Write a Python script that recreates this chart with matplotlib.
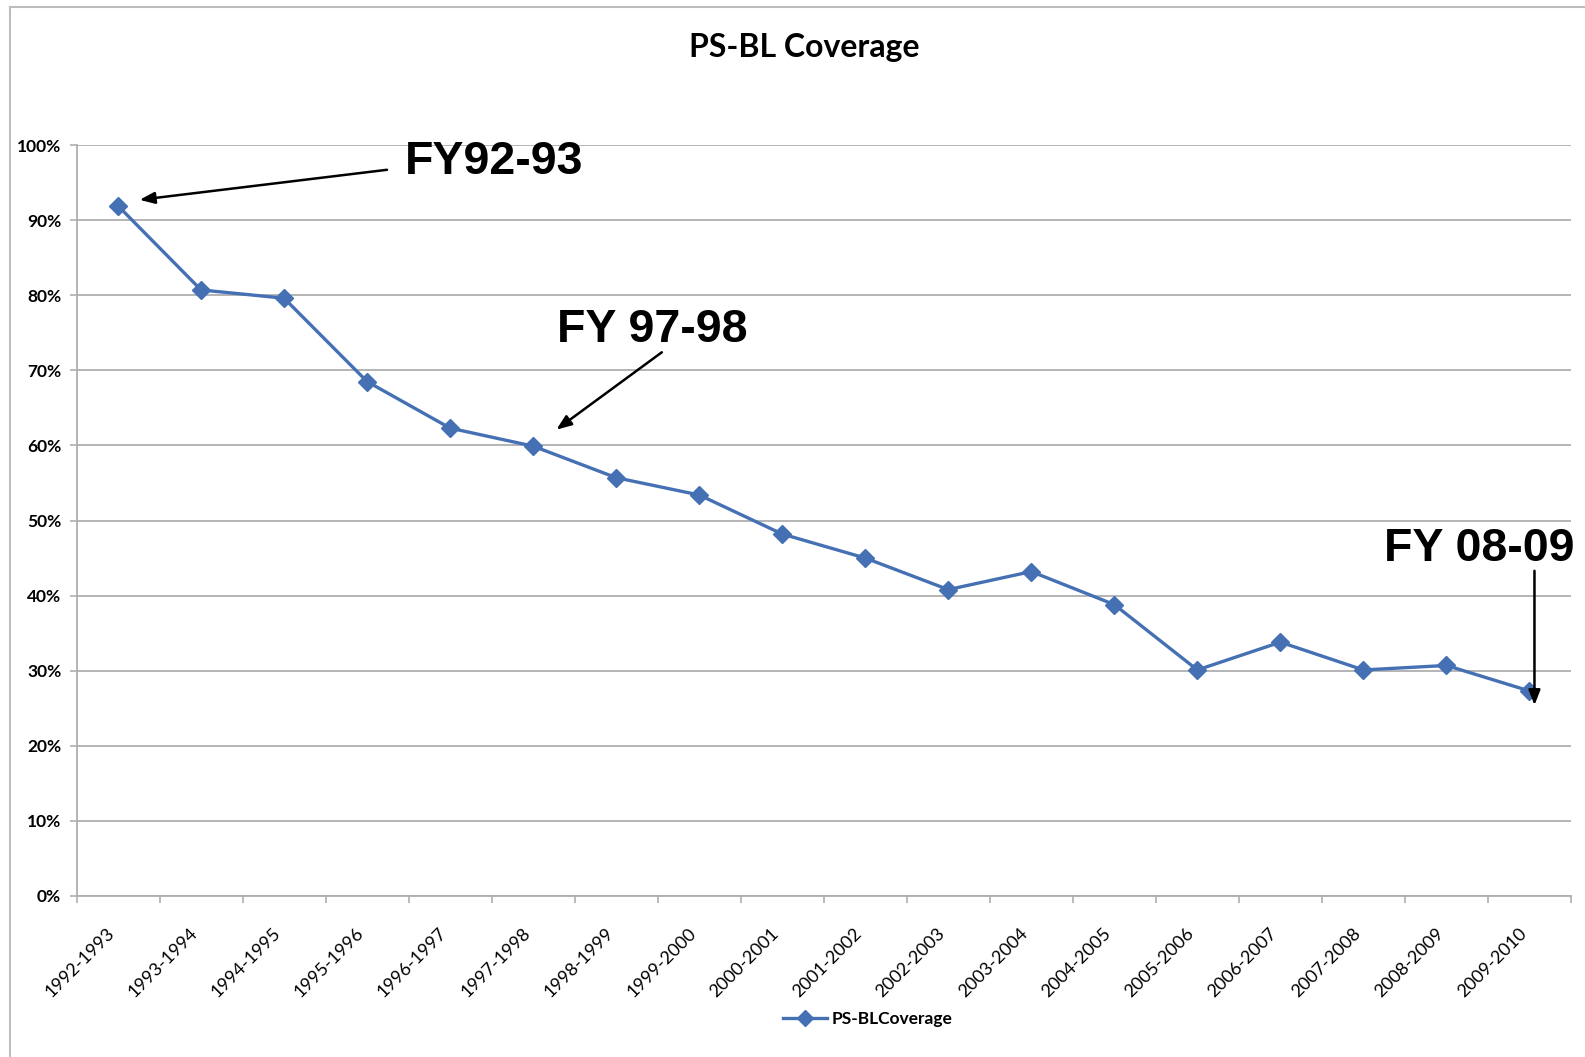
import matplotlib
matplotlib.use("Agg")
import matplotlib.pyplot as plt
from matplotlib.ticker import PercentFormatter, FixedLocator
from matplotlib.lines import Line2D
import numpy as np

categories = ["1992-1993", "1993-1994", "1994-1995", "1995-1996", "1996-1997",
              "1997-1998", "1998-1999", "1999-2000", "2000-2001", "2001-2002",
              "2002-2003", "2003-2004", "2004-2005", "2005-2006", "2006-2007",
              "2007-2008", "2008-2009", "2009-2010"]
coverage = [0.919, 0.807, 0.796, 0.685, 0.623, 0.599, 0.557, 0.534, 0.482,
            0.450, 0.408, 0.432, 0.388, 0.301, 0.338, 0.301, 0.307, 0.273]
series_name = "PS-BLCoverage"
title = "PS-BL Coverage"
yticks = [0.0, 0.1, 0.2, 0.3, 0.4, 0.5, 0.6, 0.7, 0.8, 0.9, 1.0]

BLUE = "#4571B4"
GRID = "#AFAFAF"
UI = "Lato"
ANN = "Liberation Sans"

W, H = 1585, 1057
fig = plt.figure(figsize=(W / 100, H / 100), dpi=100)

# chart-area border (left and top)
fig.add_artist(Line2D([10 / W, 10 / W], [0, 1 - 7 / H], color="#BDBDBD", lw=1.5))
fig.add_artist(Line2D([10 / W, 1], [1 - 7 / H, 1 - 7 / H], color="#BDBDBD", lw=1.5))

left, right, top, bottom = 76.5, 1571, 145, 896
ax = fig.add_axes([left / W, 1 - bottom / H, (right - left) / W, (bottom - top) / H])

x = np.arange(len(categories))
ax.plot(x, coverage, color=BLUE, lw=2.4, marker="D", markersize=9,
        markerfacecolor=BLUE, markeredgecolor=BLUE, label=series_name, zorder=3)

ax.set_xlim(-0.5, len(categories) - 0.5)
ax.set_ylim(0, 1.0)
ax.set_yticks(yticks)
ax.yaxis.set_major_formatter(PercentFormatter(1.0, decimals=0))
ax.grid(axis="y", color=GRID, lw=1.3)
ax.set_axisbelow(True)

ax.set_xticks(x)
ax.set_xticklabels(categories, rotation=45, ha="right", va="bottom",
                   rotation_mode="anchor", fontfamily=UI, fontsize=13)
ax.xaxis.set_minor_locator(FixedLocator(np.arange(-0.5, len(categories), 1.0)))
ax.tick_params(axis="x", which="major", length=0, pad=29)
ax.tick_params(axis="x", which="minor", length=5, color=GRID, width=1.2)
ax.tick_params(axis="y", length=5, color=GRID, width=1.2, pad=6)
for lab in ax.get_yticklabels():
    lab.set_fontfamily(UI)
    lab.set_fontweight("bold")
    lab.set_fontsize(12.5)

for s in ["top", "right"]:
    ax.spines[s].set_visible(False)
for s in ["left", "bottom"]:
    ax.spines[s].set_color(GRID)
    ax.spines[s].set_linewidth(1.3)

fig.text(804 / W, 1 - 48 / H, title, ha="center", va="center",
         fontfamily=UI, fontweight="bold", fontsize=23)

# annotations
arrowprops = dict(arrowstyle="-|>,head_length=0.9,head_width=0.35", color="black", lw=1.8,
                  shrinkA=0, shrinkB=0)
ax.text(3.45, 0.977, "FY92-93", ha="left", va="center", fontfamily=ANN,
        fontweight="bold", fontsize=33.5)
ax.annotate("", xy=(0.26, 0.927), xytext=(3.24, 0.967), arrowprops=arrowprops)

ax.text(6.44, 0.753, "FY 97-98", ha="center", va="center", fontfamily=ANN,
        fontweight="bold", fontsize=33.5)
ax.annotate("", xy=(5.28, 0.621), xytext=(6.55, 0.724), arrowprops=arrowprops)

ax.text(16.4, 0.462, "FY 08-09", ha="center", va="center", fontfamily=ANN,
        fontweight="bold", fontsize=33.5)
ax.annotate("", xy=(17.06, 0.254), xytext=(17.06, 0.433), arrowprops=arrowprops)

leg = fig.legend(handles=[Line2D([0], [0], color=BLUE, lw=2.4, marker="D", markersize=8)],
                 labels=[series_name], loc="center", bbox_to_anchor=(868 / W, 1 - 1019 / H),
                 frameon=False, prop={"family": UI, "size": 12.5, "weight": "bold"},
                 handlelength=2.5, handletextpad=0.3)

fig.savefig("out.png", dpi=100, facecolor="white")
